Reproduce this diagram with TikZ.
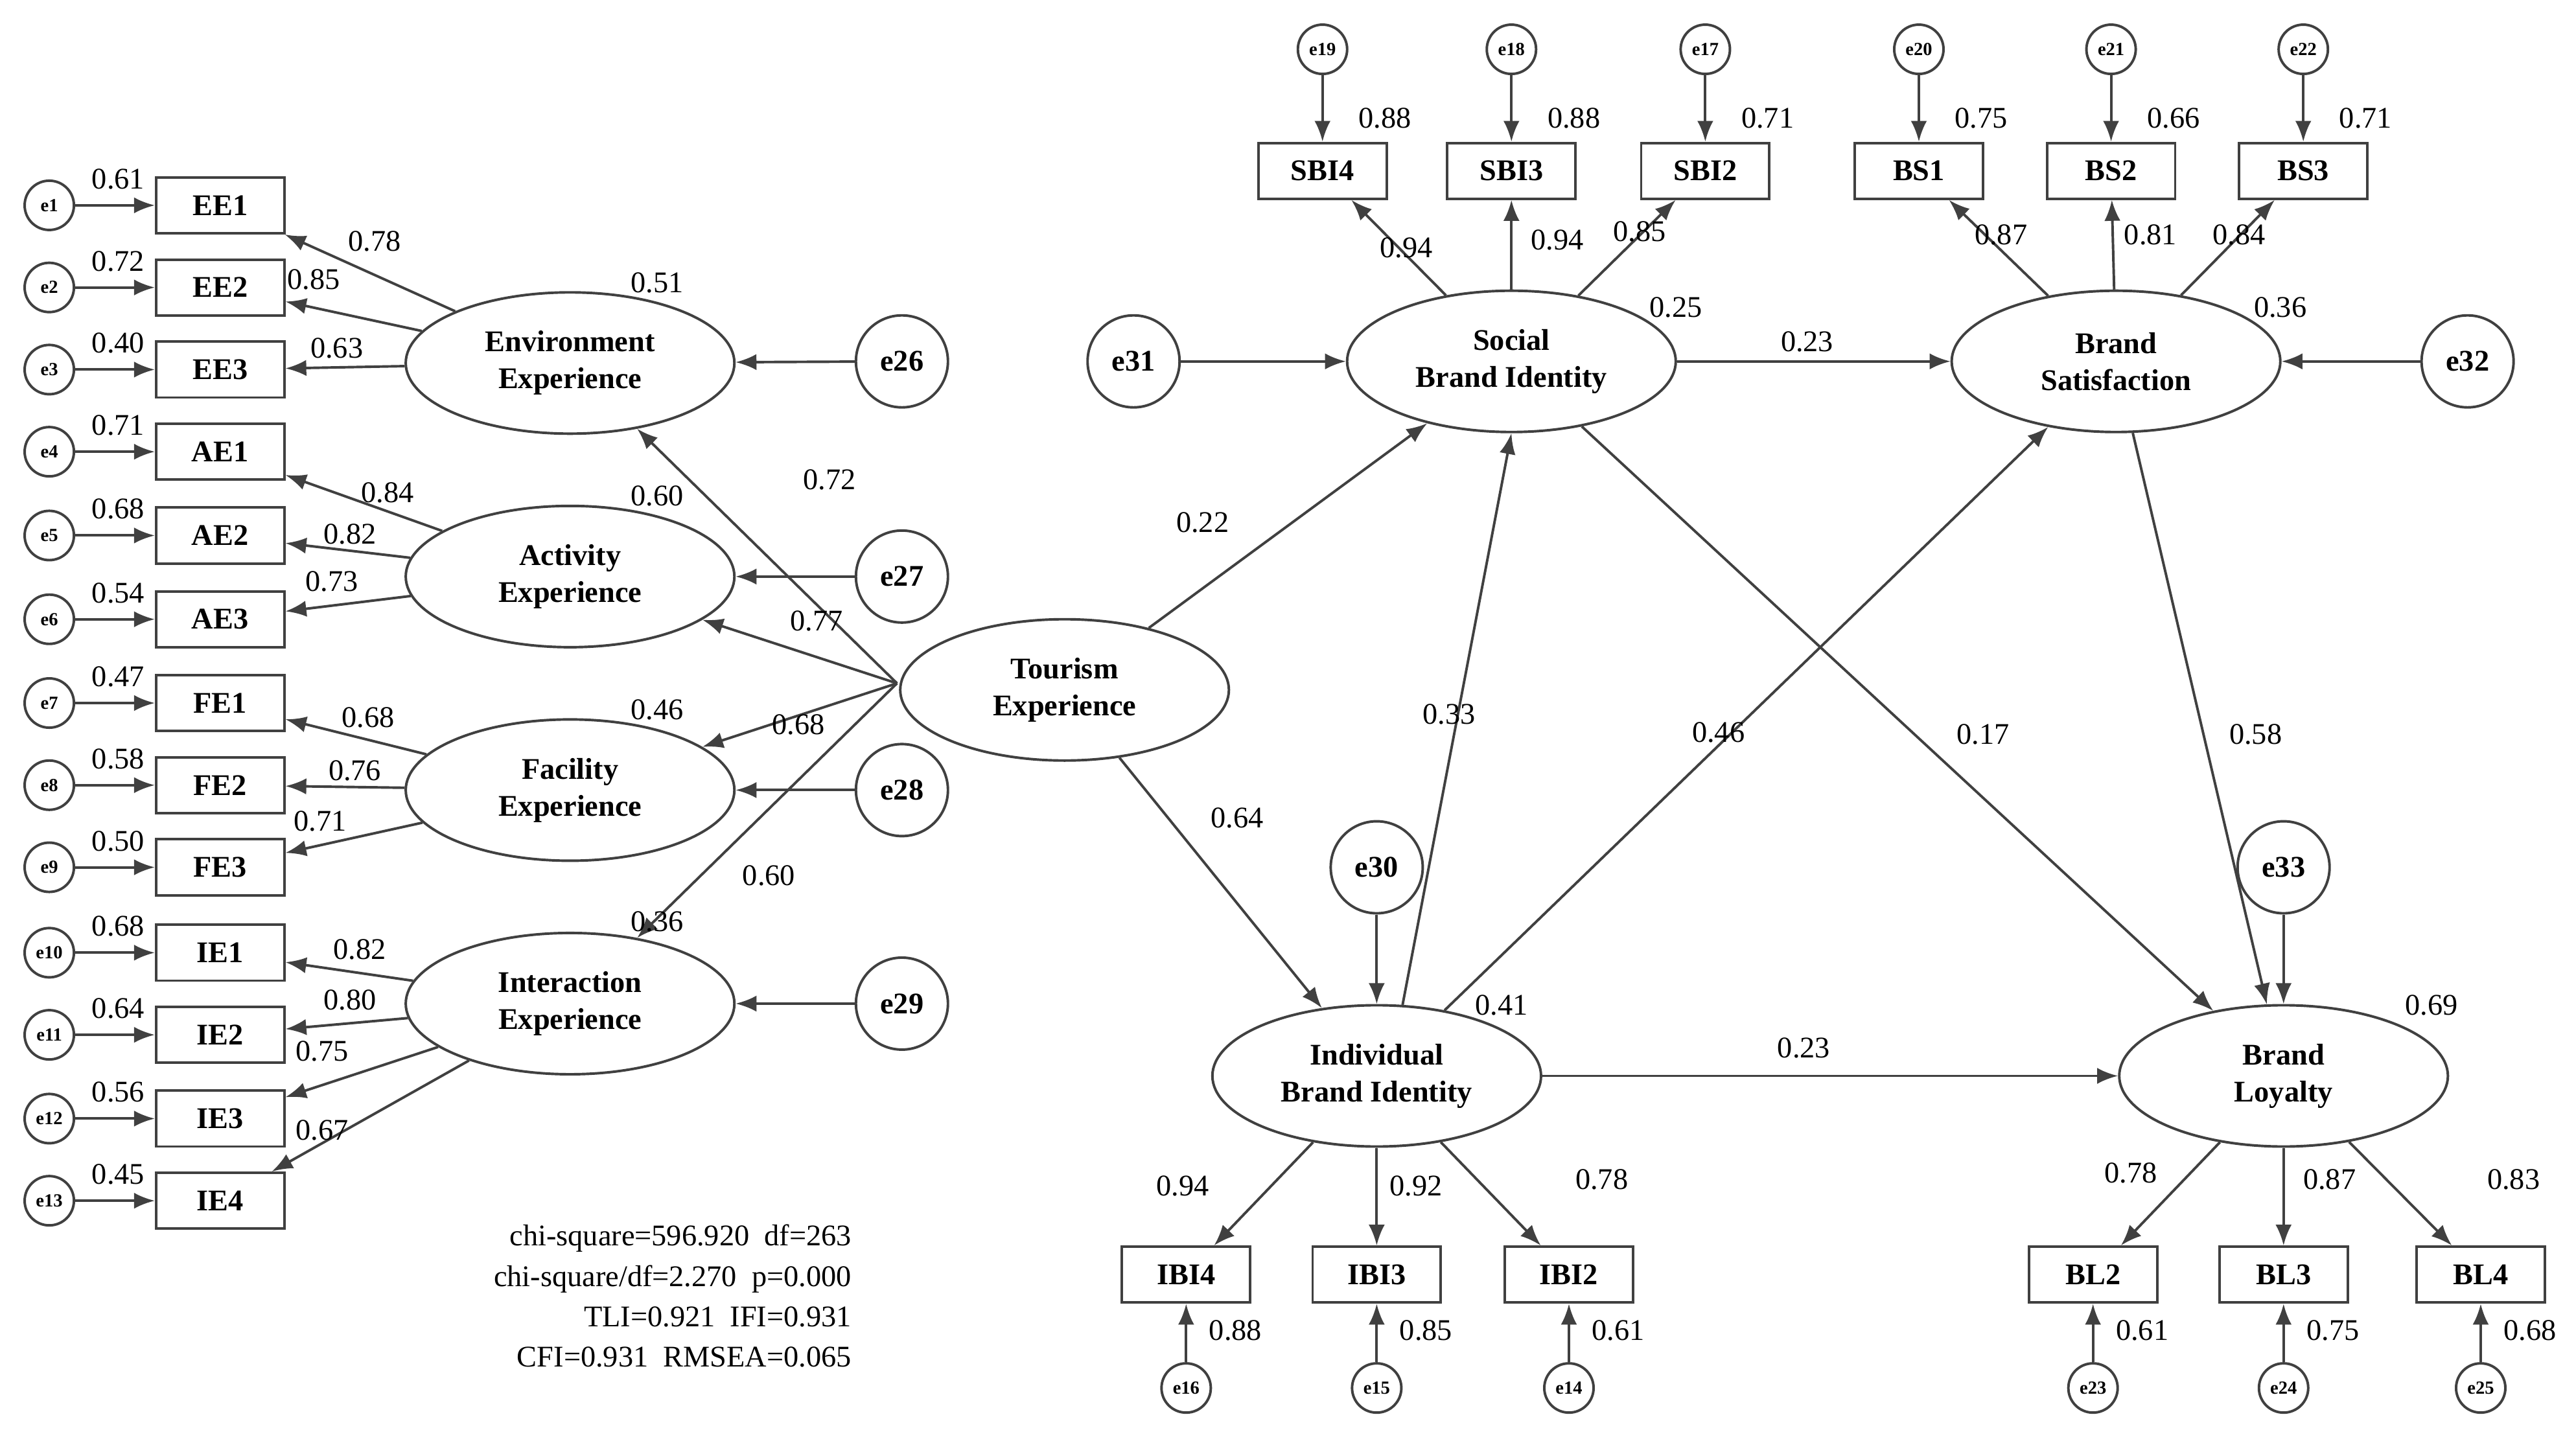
\documentclass[tikz,border=0pt]{standalone}
\usepackage{fontspec}
\setmainfont{Liberation Serif}
\usetikzlibrary{arrows.meta,shapes.geometric}
\begin{document}
\begin{tikzpicture}[x=0.025cm,y=-0.025cm,
  every path/.style={draw=black!75,line width=1.1pt},
  arr/.style={-{Latex[length=9pt,width=7pt]}},
  box/.style={draw=black!75,line width=1.1pt,rectangle,minimum width=1.95cm,minimum height=0.85cm,inner sep=0pt,font=\fontsize{13}{15}\selectfont\bfseries},
  lat/.style={draw=black!75,line width=1.1pt,ellipse,minimum width=5cm,minimum height=2.15cm,inner sep=0pt,align=center,font=\fontsize{13}{16}\selectfont\bfseries},
  err/.style={draw=black!75,line width=1.1pt,circle,minimum size=1.4cm,inner sep=0pt,font=\fontsize{13}{15}\selectfont\bfseries},
  se/.style={draw=black!75,line width=1.1pt,circle,minimum size=0.75cm,inner sep=0pt,font=\fontsize{8}{9}\selectfont\bfseries},
  lb/.style={font=\fontsize{13}{15}\selectfont,inner sep=0pt}]
\useasboundingbox[fill=white,draw=none] (0,0) rectangle (1568,877);
% left indicators
\foreach \n/\e/\y/\t in {EE1/e1/125/0.61,EE2/e2/175/0.72,EE3/e3/225/0.40,AE1/e4/275/0.71,AE2/e5/326/0.68,AE3/e6/377/0.54,FE1/e7/428/0.47,FE2/e8/478/0.58,FE3/e9/528/0.50,IE1/e10/580/0.68,IE2/e11/630/0.64,IE3/e12/681/0.56,IE4/e13/731/0.45}{
  \node[box] (\n) at (134,\y) {\n};
  \node[se] (\e) at (30,\y) {\e};
  \draw[arr] (\e) -- (\n);
  \node[lb] at (72,\y-16) {\t};
}
\node[lat] (Env) at (347,221) {Environment\\Experience};
\node[lat] (Act) at (347,351) {Activity\\Experience};
\node[lat] (Fac) at (347,481) {Facility\\Experience};
\node[lat] (Int) at (347,611) {Interaction\\Experience};
\node[lat] (Tour) at (648,420) {Tourism\\Experience};
\node[lat] (Soc) at (920,220) {Social\\Brand Identity};
\node[lat] (Sat) at (1288,220) {Brand\\Satisfaction};
\node[lat] (Ind) at (838,655) {Individual\\Brand Identity};
\node[lat] (Loy) at (1390,655) {Brand\\Loyalty};
\node[err] (e26) at (549,220) {e26};
\node[err] (e27) at (549,351) {e27};
\node[err] (e28) at (549,481) {e28};
\node[err] (e29) at (549,611) {e29};
\node[err] (e31) at (690,220) {e31};
\node[err] (e32) at (1502,220) {e32};
\node[err] (e30) at (838,528) {e30};
\node[err] (e33) at (1390,528) {e33};
\foreach \l/\b in {Env/EE1,Env/EE2,Env/EE3,Act/AE1,Act/AE2,Act/AE3,Fac/FE1,Fac/FE2,Fac/FE3,Int/IE1,Int/IE2,Int/IE3,Int/IE4}{\draw[arr] (\l) -- (\b);}
\foreach \a/\b in {e26/Env,e27/Act,e28/Fac,e29/Int,e31/Soc,e32/Sat,e30/Ind,e33/Loy}{\draw[arr] (\a) -- (\b);}
\coordinate (T0) at (546,416);
\foreach \b in {Env,Act,Fac,Int}{\draw[arr] (T0) -- (\b);}
\draw[arr] (Tour) -- (Soc);
\draw[arr] (Tour) -- (Ind);
\draw[arr] (Ind.70) -- (Soc.south);
\draw[arr] (Ind) -- (Sat);
\draw[arr] (Ind) -- (Loy);
\draw[arr] (Soc) -- (Sat);
\draw[arr] (Soc) -- (Loy);
\draw[arr] (Sat) -- (Loy);
% top indicators
\foreach \n/\e/\x/\t in {SBI4/e19/805/0.88,SBI3/e18/920/0.88,SBI2/e17/1038/0.71,BS1/e20/1168/0.75,BS2/e21/1285/0.66,BS3/e22/1402/0.71}{
  \node[box] (\n) at (\x,104) {\n};
  \node[se] (\e) at (\x,30) {\e};
  \draw[arr] (\e) -- (\n);
  \node[lb] at (\x+38,72) {\t};
}
\foreach \l/\b in {Soc/SBI4,Soc/SBI3,Soc/SBI2,Sat/BS1,Sat/BS2,Sat/BS3}{\draw[arr] (\l) -- (\b);}
% bottom indicators
\foreach \n/\e/\x/\t in {IBI4/e16/722/0.88,IBI3/e15/838/0.85,IBI2/e14/955/0.61,BL2/e23/1274/0.61,BL3/e24/1390/0.75,BL4/e25/1510/0.68}{
  \node[box] (\n) at (\x,776) {\n};
  \node[se] (\e) at (\x,845) {\e};
  \draw[arr] (\e) -- (\n);
  \node[lb] at (\x+30,810) {\t};
}
\foreach \l/\b in {Ind/IBI4,Ind/IBI3,Ind/IBI2,Loy/BL2,Loy/BL3,Loy/BL4}{\draw[arr] (\l) -- (\b);}
% labels
\foreach \x/\y/\t in {228/147/0.78,191/170/0.85,205/212/0.63,236/300/0.84,213/325/0.82,202/354/0.73,224/437/0.68,216/469/0.76,195/500/0.71,219/578/0.82,213/609/0.80,196/640/0.75,196/688/0.67,
400/172/0.51,400/302/0.60,400/432/0.46,400/561/0.36,505/292/0.72,497/378/0.77,486/441/0.68,468/533/0.60,732/318/0.22,753/498/0.64,
856/151/0.94,948/146/0.94,998/141/0.85,1218/143/0.87,1309/143/0.81,1363/143/0.84,1020/187/0.25,1388/187/0.36,1100/208/0.23,
882/435/0.33,1046/446/0.46,1207/447/0.17,1373/447/0.58,914/612/0.41,1098/638/0.23,1480/612/0.69,
720/722/0.94,862/722/0.92,975/718/0.78,1297/714/0.78,1418/718/0.87,1530/718/0.83}{\node[lb] at (\x,\y) {\t};}
\node[lb,anchor=east,align=right,font=\fontsize{13}{17.5}\selectfont] (fit) at (519,789) {chi-square=596.920~~df=263\\chi-square/df=2.270~~p=0.000\\TLI=0.921~~IFI=0.931\\CFI=0.931~~RMSEA=0.065};
\end{tikzpicture}
\end{document}
